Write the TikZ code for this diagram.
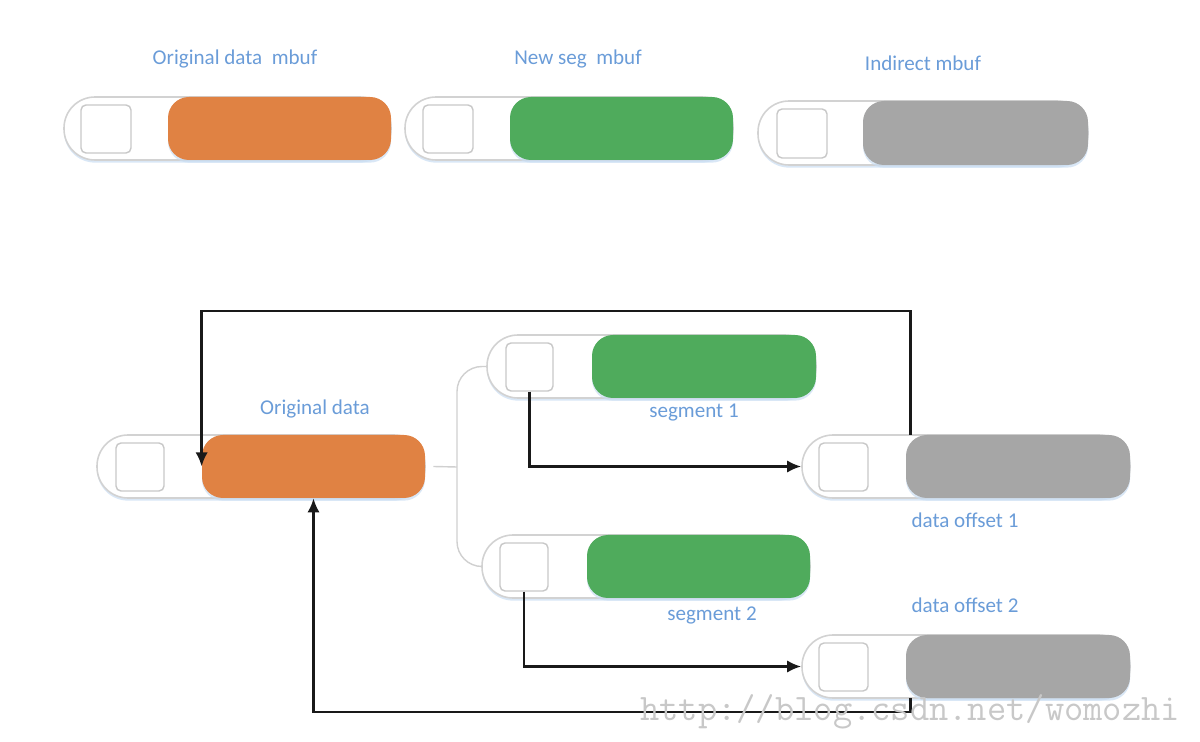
\documentclass[tikz,border=0pt]{standalone}
\usepackage{fontspec}
\setmainfont{Carlito}
\usetikzlibrary{fit,arrows.meta,shadows,calc}
\definecolor{orangec}{HTML}{E08243}
\definecolor{greenc}{HTML}{4FAB5C}
\definecolor{grayc}{HTML}{A6A6A6}
\definecolor{lblc}{HTML}{6A9CD8}
\definecolor{outerc}{HTML}{D2D2D2}
\definecolor{sqc}{HTML}{C8C8C8}
\definecolor{treec}{HTML}{D0D0D0}
\definecolor{shadowc}{HTML}{C9DDF2}
\definecolor{wmc}{HTML}{C8C8C8}
\tikzset{
  outerbox/.style={draw=outerc, line width=0.9pt, fill=white, rounded corners=0.62cm, inner sep=0pt,
    drop shadow={shadow xshift=0pt, shadow yshift=-1.5pt, fill=shadowc, opacity=0.7}},
  sqbox/.style={draw=sqc, line width=0.8pt, fill=white, rounded corners=0.1cm, inner sep=0pt},
  databox/.style={draw=none, rounded corners=0.42cm, inner sep=0pt,
    drop shadow={shadow xshift=0pt, shadow yshift=-1.5pt, fill=shadowc, opacity=0.7}},
  lbl/.style={text=lblc, font=\fontsize{12}{14}\selectfont, inner sep=0pt},
  arr/.style={draw=black!90, line width=1.4pt, -{Latex[length=8pt,width=7pt]}},
  tree/.style={draw=treec, line width=0.8pt},
  wm/.style={text=wmc, font=\ttfamily\fontsize{21.3}{24}\selectfont, inner sep=0pt},
}
% name, outer left x, top y, bottom y, square x1, square x2, data x1, data x2, colour
\newcommand{\mbufpill}[9]{%
  \node[outerbox, fit={(#2,#3)(#8,#4)}] (#1o) {};
  \node[sqbox, fit={(#5,{#3+8})(#6,{#4-7})}] (#1s) {};
  \node[databox, fill=#9, fit={(#7,#3)(#8,#4)}] (#1d) {};
}
\begin{document}
\begin{tikzpicture}[x=0.02cm, y=-0.02cm]
\useasboundingbox (0,0) rectangle (1200,742);
% top legend
\mbufpill{t1}{64}{97}{160}{81}{131}{168}{391}{orangec}
\mbufpill{t2}{405}{97}{160}{423}{473}{510}{733}{greenc}
\mbufpill{t3}{758}{101}{165}{777}{827}{863}{1088}{grayc}
\node[lbl] (lt1) at (235,59) {Original data\ \ mbuf};
\node[lbl] (lt2) at (578,59) {New seg\ \ mbuf};
\node[lbl] (lt3) at (923,63) {Indirect mbuf};
% bottom diagram
\mbufpill{og}{97}{435}{498}{116}{164}{202}{425}{orangec}
\mbufpill{s1}{487}{335}{398}{506}{553}{592}{816}{greenc}
\mbufpill{s2}{482}{535}{598}{500}{548}{587}{810}{greenc}
\mbufpill{f1}{802}{435}{498}{819}{868}{906}{1130}{grayc}
\mbufpill{f2}{802}{635}{698}{819}{868}{906}{1130}{grayc}
\node[lbl] (log) at (315,409) {Original data};
\node[lbl] (ls1) at (694,413) {segment 1};
\node[lbl] (ls2) at (712,615) {segment 2};
\node[lbl] (lf1) at (965,520) {data offset 1};
\node[lbl] (lf2) at (965,605) {data offset 2};
% tree connector
\coordinate (trunk) at (457,467);
\draw[tree] ([xshift=0.16cm]ogd.east) -- (trunk);
\draw[tree, rounded corners=0.5cm] (s1o.west) -| (trunk) |- (s2o.west);
% arrows
\draw[arr] (s1s.south) |- (f1o.west);
\draw[arr] (s2s.south) |- (f2o.west);
\coordinate (topline) at (0,311);
\coordinate (botline) at (0,712);
\draw[arr] ($(f1d.north west)+(5,0)$) |- (topline -| ogd.west) -- (ogd.west);
\draw[arr] ($(f2d.south west)+(5,0)$) |- (botline -| ogd.south) -- (ogd.south);
% watermark
\node[wm, anchor=west] (wmark) at (640,712) {http://blog.csdn.net/womozhi};
\end{tikzpicture}
\end{document}
